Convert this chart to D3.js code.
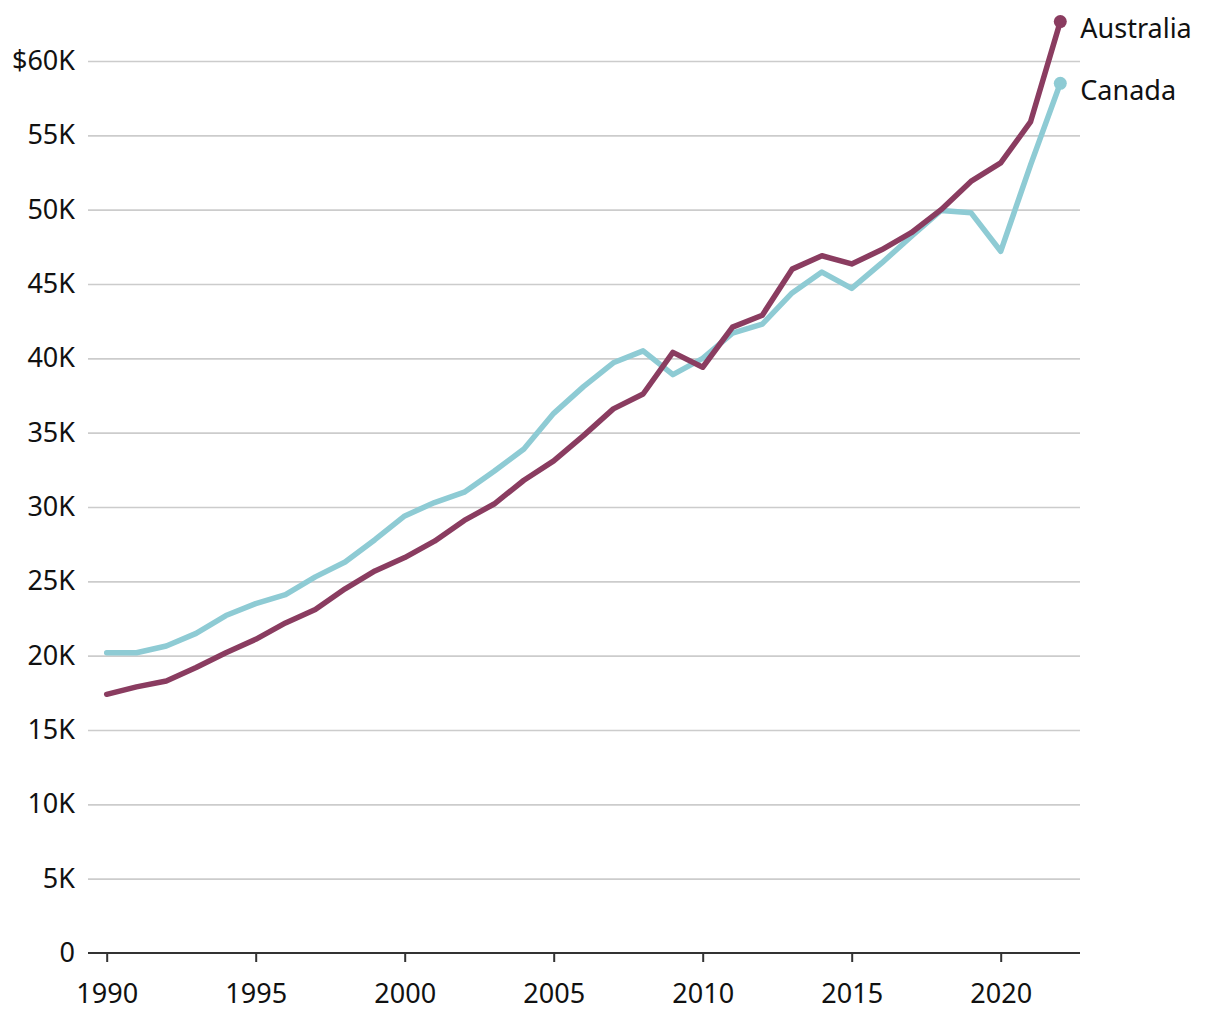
<!DOCTYPE html>
<html>
<head>
<meta charset="utf-8">
<script src="https://cdn.jsdelivr.net/npm/d3@7"></script>
<style>
    body { margin: 0; background: #fff; }
    text { font-family: "Noto Sans", sans-serif; fill: #111; }
</style>
</head>
<body>
<div class="chart"></div>
<script>
let years = d3.range(1990, 2023);

let australia = [17.4, 17.9, 18.3, 19.2, 20.2, 21.1, 22.2, 23.1, 24.5, 25.7,
    26.6, 27.7, 29.1, 30.2, 31.8, 33.1, 34.8, 36.6, 37.6, 40.4,
    39.4, 42.1, 42.9, 46.0, 46.9, 46.35, 47.3, 48.45, 50.0, 51.9,
    53.15, 55.9, 62.65];

let canada = [20.2, 20.2, 20.65, 21.5, 22.7, 23.5, 24.1, 25.3, 26.3, 27.8,
    29.4, 30.3, 31.0, 32.4, 33.9, 36.3, 38.1, 39.7, 40.5, 38.9,
    40.0, 41.7, 42.3, 44.4, 45.8, 44.7, 46.4, 48.2, 49.95, 49.8,
    47.2, 53.0, 58.5];

let yTicks = d3.range(0, 61, 5);
let xTicks = [1990, 1995, 2000, 2005, 2010, 2015, 2020];

let seriesList = [
    { name: "Australia", values: australia, color: "#8a3c60" },
    { name: "Canada", values: canada, color: "#8ecbd4" }
];

let svgWidth = 1220;
let svgHeight = 1020;

let margin = { top: 61, right: 140, bottom: 66, left: 88 };

let width = svgWidth - margin.left - margin.right;
let height = svgHeight - margin.top - margin.bottom;

let svg = d3.select(".chart")
    .append("svg")
    .attr("width", svgWidth)
    .attr("height", svgHeight);

let chartGroup = svg.append("g")
    .attr("transform", `translate(${margin.left}, ${margin.top})`);

let xScale = d3.scaleLinear()
    .domain([1990, 2022])
    .range([18.7, 972.3]);

let yScale = d3.scaleLinear()
    .domain([0, 60])
    .range([height - 1, 0]);

// gridlines + y labels
let leftAxis = d3.axisLeft(yScale)
    .tickValues(yTicks)
    .tickSize(-width)
    .tickPadding(13)
    .tickFormat(d => d === 0 ? "0" : (d === 60 ? "$" : "") + d + "K");

let yAxis = chartGroup.append("g").call(leftAxis);
yAxis.select(".domain").remove();
yAxis.selectAll(".tick line")
    .attr("stroke", "#cccccc")
    .attr("stroke-width", 1.6)
    .attr("display", d => d === 0 ? "none" : null);
yAxis.selectAll(".tick text")
    .attr("font-size", 27)
    .attr("font-family", "Noto Sans")
    .attr("fill", "#111");

// bottom axis
let bottomAxis = d3.axisBottom(xScale)
    .tickValues(xTicks)
    .tickSize(9)
    .tickSizeOuter(0)
    .tickPadding(22)
    .tickFormat(d3.format("d"));

let xAxis = chartGroup.append("g")
    .attr("transform", `translate(0, ${height - 1})`)
    .call(bottomAxis);
// baseline runs the full plot width, not just the scale range
xAxis.select(".domain")
    .attr("d", `M0,0H${width}`)
    .attr("stroke", "#333")
    .attr("stroke-width", 2.2);
xAxis.selectAll(".tick line")
    .attr("stroke", "#333")
    .attr("stroke-width", 2);
xAxis.selectAll(".tick text")
    .attr("font-size", 27)
    .attr("font-family", "Noto Sans")
    .attr("fill", "#111");

let line = d3.line()
    .x((d, i) => xScale(years[i]))
    .y(d => yScale(d));

// Canada first so Australia sits on top
seriesList.slice().reverse().forEach(function (s) {
    chartGroup.append("path")
        .datum(s.values)
        .attr("fill", "none")
        .attr("stroke", s.color)
        .attr("stroke-width", 5.5)
        .attr("stroke-linejoin", "round")
        .attr("stroke-linecap", "round")
        .attr("d", line);
});

seriesList.forEach(function (s) {
    let last = s.values[s.values.length - 1];
    chartGroup.append("circle")
        .attr("cx", xScale(2022))
        .attr("cy", yScale(last))
        .attr("r", 6.5)
        .attr("fill", s.color);

    chartGroup.append("text")
        .attr("x", xScale(2022) + 20)
        .attr("y", yScale(last) + 8)
        .attr("dy", "0.32em")
        .attr("font-size", 27)
        .text(s.name);
});
</script>
</body>
</html>
